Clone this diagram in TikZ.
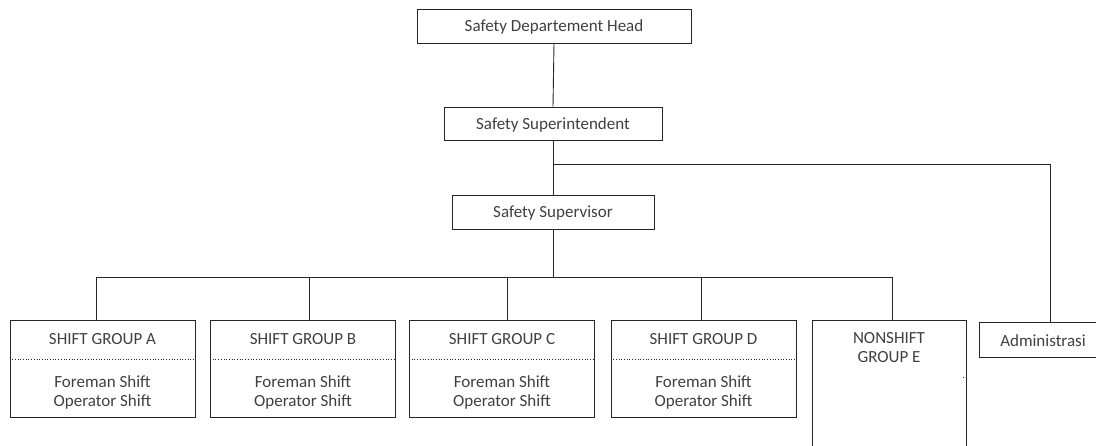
\documentclass[tikz,border=0pt]{standalone}
\usepackage{fontspec}
\setmainfont{Carlito}
\begin{document}
\begin{tikzpicture}[x=1pt,y=-1pt,
  box/.style={draw=black!85, line width=0.9pt, inner sep=0pt, fill=white},
  txt/.style={text=black!75, font=\fontsize{17}{19}\selectfont, inner sep=0pt, align=center},
  link/.style={draw=black!85, line width=0.9pt},
  sep/.style={draw=black!85, line width=0.7pt, dotted}]
\useasboundingbox (0,0) rectangle (1096,445);
\clip (0,0) rectangle (1096,445);
% top
\node[box, minimum width=274pt, minimum height=34pt] (head) at (554,26) {};
\node[txt] (headt) at (554,27) {Safety Departement Head};
\node[box, minimum width=218pt, minimum height=33pt] (sup) at (553,123.5) {};
\node[txt] (supt) at (553,125) {Safety Superintendent};
\node[box, minimum width=202pt, minimum height=34pt] (spv) at (553,212) {};
\node[txt] (spvt) at (553,213) {Safety Supervisor};
% groups
\foreach \n/\cx/\l in {A/102.5/A, B/303/B, C/502/C, D/703.5/D}{
  \node[box, minimum width=185pt, minimum height=97pt] (g\n) at (\cx,368.5) {};
  \node[txt] (g\n t) at (\cx,339) {SHIFT GROUP \l};
  \draw[sep] (g\n.west |- 0,359) -- (g\n.east |- 0,359);
  \node[txt] (g\n f) at (\cx,382) {Foreman Shift};
  \node[txt] (g\n o) at (\cx,402) {Operator Shift};
}
\node[box, minimum width=154pt, minimum height=150pt] (gE) at (889,395) {};
\node[txt] (gEt) at (889,348) {NONSHIFT\\GROUP E};
\draw[sep] (gE.west |- 0,377) -- ++(2,0);
\draw[sep] (gE.east |- 0,377) -- ++(-3,0);
\node[box, minimum width=128pt, minimum height=35pt] (adm) at (1043,339.5) {};
\node[txt] (admt) at (1043,341) {Administrasi};
% connectors
\coordinate (br) at (553,164);
\coordinate (bus) at (553,277);
\draw[link] (head.south) -- (sup.north);
\draw[link] (sup.south) -- (spv.north);
\draw[link] (br) -| (adm.north -| 1050,0);
\draw[link] (spv.south) -- (bus);
\draw[link] (96,277) -- (892,277);
\foreach \n/\x in {A/96, B/309, C/507, D/701, E/892}{
  \draw[link] (\x,277) -- (\x,0 |- g\n.north);
}
\end{tikzpicture}
\end{document}
